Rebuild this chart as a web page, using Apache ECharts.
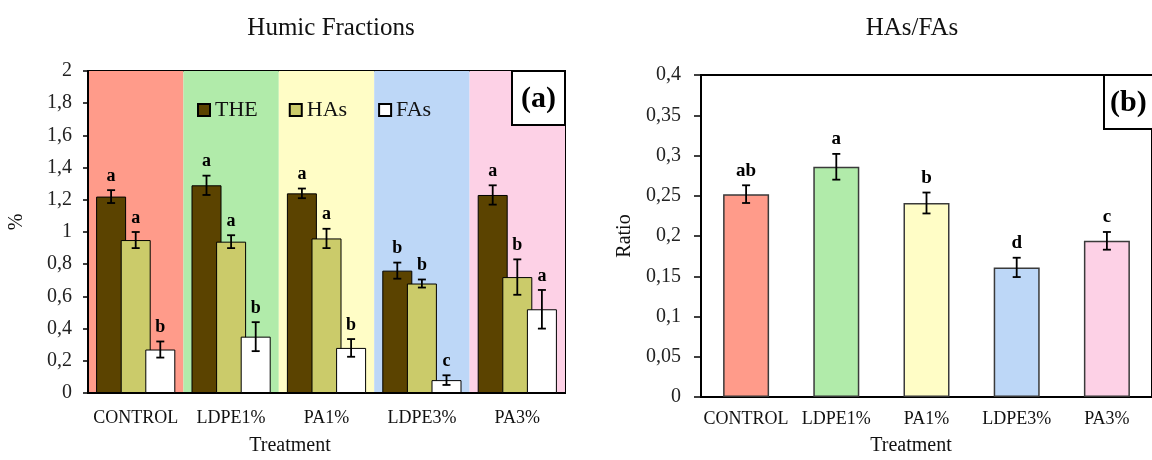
<!DOCTYPE html>
<html>
<head>
<meta charset="utf-8">
<script src="https://cdn.jsdelivr.net/npm/echarts@6/dist/echarts.min.js"></script>
<style>html,body{margin:0;padding:0;background:#fff}#c{width:1152px;height:460px}</style>
</head>
<body>
<div id="c"></div>
<script>
// ---- data ----
const categories = ['CONTROL', 'LDPE1%', 'PA1%', 'LDPE3%', 'PA3%'];
const seriesNames = ['THE', 'HAs', 'FAs'];
const theMean = [1.22, 1.29, 1.24, 0.76, 1.23];
const theErr = [0.04, 0.06, 0.03, 0.05, 0.06];
const theLetters = ['a', 'a', 'a', 'b', 'a'];
const hasMean = [0.95, 0.94, 0.96, 0.68, 0.72];
const hasErr = [0.05, 0.04, 0.06, 0.025, 0.11];
const hasLetters = ['a', 'a', 'a', 'b', 'b'];
const fasMean = [0.27, 0.35, 0.28, 0.08, 0.52];
const fasErr = [0.05, 0.09, 0.055, 0.03, 0.12];
const fasLetters = ['b', 'b', 'b', 'c', 'a'];
const ratioMean = [0.252, 0.286, 0.241, 0.161, 0.194];
const ratioErr = [0.011, 0.016, 0.013, 0.012, 0.011];
const ratioLetters = ['ab', 'a', 'b', 'd', 'c'];
const leftAxis = { min: 0, max: 2, interval: 0.2 };
const rightAxis = { min: 0, max: 0.4, interval: 0.05 };

// ---- styles ----
const FONT = 'Liberation Serif';
const bandColors = ['#FF9B8A', '#B1EBAA', '#FFFDC6', '#BDD7F7', '#FDD1E6'];
const groupColors = ['#5B4300', '#CBCB6A', '#FFFFFF'];
const BAR_W = 30, BAR_GAP = -0.18;
const fmt = v => String(+(+v).toFixed(2)).replace('.', ',');

const groups = [
  { mean: theMean, err: theErr, letters: theLetters },
  { mean: hasMean, err: hasErr, letters: hasLetters },
  { mean: fasMean, err: fasErr, letters: fasLetters }
];

function errRenderer(offsetPx, letters, capHalf, fontSize) {
  return function (params, api) {
    const i = api.value(0), m = api.value(1), e = api.value(2);
    const pTop = api.coord([i, m + e]);
    const pBot = api.coord([i, m - e]);
    const x = pTop[0] + offsetPx;
    const ls = { stroke: '#000', lineWidth: 1.8 };
    return {
      type: 'group',
      children: [
        { type: 'line', shape: { x1: x, y1: pTop[1], x2: x, y2: pBot[1] }, style: ls },
        { type: 'line', shape: { x1: x - capHalf, y1: pTop[1], x2: x + capHalf, y2: pTop[1] }, style: ls },
        { type: 'line', shape: { x1: x - capHalf, y1: pBot[1], x2: x + capHalf, y2: pBot[1] }, style: ls },
        { type: 'text', x: x, y: pTop[1] - 5, style: {
            text: letters[params.dataIndex], fill: '#000', align: 'center', verticalAlign: 'bottom',
            font: 'bold ' + fontSize + 'px "' + FONT + '"' } }
      ]
    };
  };
}

const series = [];
groups.forEach((g, k) => {
  series.push({
    name: seriesNames[k], type: 'bar', xAxisIndex: 0, yAxisIndex: 0,
    data: g.mean, barWidth: BAR_W, barGap: (BAR_GAP * 100) + '%',
    itemStyle: { color: groupColors[k], borderColor: '#000', borderWidth: 1 },
    z: 2 + k * 0.01
  });
});
groups.forEach((g, k) => {
  series.push({
    type: 'custom', xAxisIndex: 0, yAxisIndex: 0, z: 5,
    data: categories.map((c, i) => [i, g.mean[i], g.err[i]]),
    renderItem: errRenderer((k - 1) * BAR_W * (1 + BAR_GAP), g.letters, 4, 18),
    silent: true
  });
});
series.push({
  type: 'bar', xAxisIndex: 1, yAxisIndex: 1, barWidth: 46,
  data: ratioMean.map((v, i) => ({ value: v, itemStyle: { color: bandColors[i] } })),
  itemStyle: { borderColor: '#3a3a3a', borderWidth: 1.5 }
});
series.push({
  type: 'custom', xAxisIndex: 1, yAxisIndex: 1, z: 5,
  data: categories.map((c, i) => [i, ratioMean[i], ratioErr[i]]),
  renderItem: errRenderer(0, ratioLetters, 4, 19),
  silent: true
});

const axisLineStyle = { color: '#000', width: 2 };
const option = {
  animation: false,
  backgroundColor: '#fff',
  textStyle: { fontFamily: FONT },
  grid: [
    { left: 88, top: 71, width: 477, height: 322, show: true, borderColor: '#000', borderWidth: 2, backgroundColor: 'transparent' },
    { left: 701, top: 75, width: 457, height: 322, show: true, borderColor: '#000', borderWidth: 2, backgroundColor: 'transparent' }
  ],
  legend: {
    data: seriesNames, left: 197, top: 99, padding: 0, itemGap: 31,
    itemWidth: 12, itemHeight: 12, icon: 'rect',
    textStyle: { fontFamily: FONT, fontSize: 22, color: '#111' }
  },
  xAxis: [
    { type: 'category', gridIndex: 0, data: categories,
      axisLine: { lineStyle: axisLineStyle }, axisTick: { show: false },
      axisLabel: { interval: 0, margin: 16, fontFamily: FONT, fontSize: 18, color: '#111' },
      splitArea: { show: true, interval: 0, areaStyle: { color: bandColors } } },
    { type: 'category', gridIndex: 1, data: categories,
      axisLine: { lineStyle: axisLineStyle }, axisTick: { show: false },
      axisLabel: { interval: 0, margin: 13, fontFamily: FONT, fontSize: 18, color: '#111' } }
  ],
  yAxis: [
    { type: 'value', gridIndex: 0, min: leftAxis.min, max: leftAxis.max, interval: leftAxis.interval,
      axisLine: { show: true, lineStyle: axisLineStyle },
      axisTick: { show: true, length: 5, lineStyle: { color: '#000', width: 1.5 } },
      splitLine: { show: false },
      axisLabel: { margin: 16, fontFamily: FONT, fontSize: 20, color: '#222', formatter: fmt } },
    { type: 'value', gridIndex: 1, min: rightAxis.min, max: rightAxis.max, interval: rightAxis.interval,
      axisLine: { show: true, lineStyle: axisLineStyle },
      axisTick: { show: true, length: 7, lineStyle: { color: '#000', width: 1.5 } },
      splitLine: { show: false },
      axisLabel: { margin: 20, fontFamily: FONT, fontSize: 20, color: '#222', formatter: fmt } }
  ],
  graphic: [
    { type: 'text', x: 331, y: 28, style: { text: 'Humic Fractions', align: 'center', verticalAlign: 'middle', font: '25px "' + FONT + '"', fill: '#111' } },
    { type: 'text', x: 912, y: 28, style: { text: 'HAs/FAs', align: 'center', verticalAlign: 'middle', font: '25px "' + FONT + '"', fill: '#111' } },
    { type: 'text', x: 17, y: 222, rotation: Math.PI / 2, style: { text: '%', align: 'center', verticalAlign: 'middle', font: '20px "' + FONT + '"', fill: '#111' } },
    { type: 'text', x: 625, y: 236, rotation: Math.PI / 2, style: { text: 'Ratio', align: 'center', verticalAlign: 'middle', font: '20px "' + FONT + '"', fill: '#111' } },
    { type: 'text', x: 290, y: 446, style: { text: 'Treatment', align: 'center', verticalAlign: 'middle', font: '20px "' + FONT + '"', fill: '#111' } },
    { type: 'text', x: 911, y: 446, style: { text: 'Treatment', align: 'center', verticalAlign: 'middle', font: '20px "' + FONT + '"', fill: '#111' } },
    { type: 'rect', z: 100, shape: { x: 512, y: 71, width: 53, height: 54 }, style: { fill: '#fff', stroke: '#000', lineWidth: 2 } },
    { type: 'text', z: 101, x: 538.5, y: 99, style: { text: '(a)', align: 'center', verticalAlign: 'middle', font: 'bold 30px "' + FONT + '"', fill: '#000' } },
    { type: 'rect', z: 100, shape: { x: 1104, y: 75, width: 60, height: 54 }, style: { fill: '#fff', stroke: '#000', lineWidth: 2 } },
    { type: 'text', z: 101, x: 1110, y: 103, style: { text: '(b)', align: 'left', verticalAlign: 'middle', font: 'bold 30px "' + FONT + '"', fill: '#000' } }
  ],
  series: series
};
const chart = echarts.init(document.getElementById('c'), null, { renderer: 'canvas' });
chart.setOption(option);
</script>
</body>
</html>
